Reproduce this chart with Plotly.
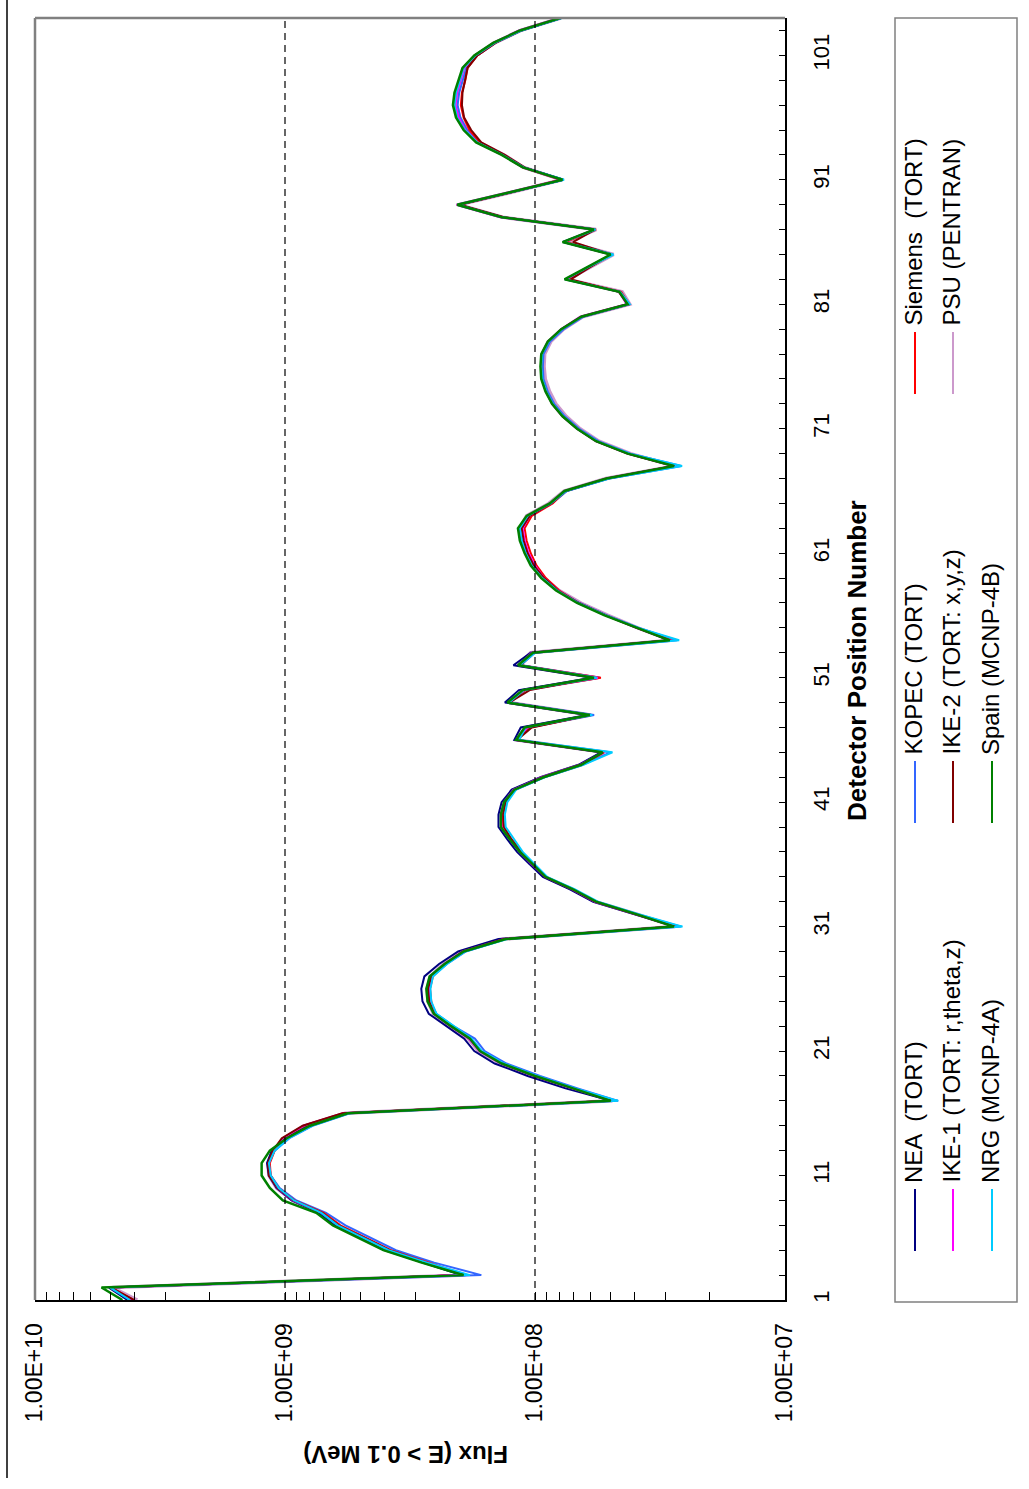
import plotly.graph_objects as go

# ---------------------------------------------------------------------------
# Data: fast-neutron flux (E > 0.1 MeV) at each detector position
# ---------------------------------------------------------------------------
positions = list(range(1, 105))

flux_nea = [
    4.27e9, 5.06e9, 1.97e8, 2.80e8, 3.98e8, 5.00e8, 6.30e8, 7.30e8, 9.40e8, 1.08e9,
    1.16e9, 1.18e9, 1.13e9, 9.90e8, 8.05e8, 5.70e8, 4.95e7, 7.55e7, 1.07e8, 1.45e8,
    1.75e8, 1.92e8, 2.27e8, 2.66e8, 2.82e8, 2.85e8, 2.77e8, 2.42e8, 2.03e8, 1.40e8,
    2.75e7, 4.00e7, 5.85e7, 7.25e7, 9.30e7, 1.05e8, 1.18e8, 1.29e8, 1.40e8, 1.40e8,
    1.36e8, 1.24e8, 9.50e7, 6.70e7, 5.45e7, 1.21e8, 1.14e8, 6.15e7, 1.32e8, 1.16e8,
    5.90e7, 1.22e8, 1.04e8, 2.90e7, 3.90e7, 5.20e7, 6.65e7, 8.10e7, 9.30e7, 1.03e8,
    1.09e8, 1.13e8, 1.15e8, 1.07e8, 8.65e7, 7.50e7, 5.10e7, 2.76e7, 4.22e7, 5.65e7,
    6.75e7, 7.70e7, 8.50e7, 9.00e7, 9.38e7, 9.45e7, 9.38e7, 8.85e7, 7.80e7, 6.50e7,
    4.22e7, 4.55e7, 7.55e7, 6.10e7, 4.95e7, 7.70e7, 5.78e7, 1.35e8, 2.03e8, 1.25e8,
    7.70e7, 1.11e8, 1.35e8, 1.70e8, 1.92e8, 2.05e8, 2.11e8, 2.08e8, 2.01e8, 1.94e8,
    1.74e8, 1.46e8, 1.14e8, 7.85e7,
]

flux_kopec = [
    4.17e9, 4.94e9, 1.64e8, 2.53e8, 3.60e8, 4.54e8, 5.73e8, 6.85e8, 9.00e8, 1.05e9,
    1.14e9, 1.16e9, 1.10e9, 9.60e8, 7.76e8, 5.50e8, 4.65e7, 6.75e7, 9.55e7, 1.30e8,
    1.59e8, 1.74e8, 2.12e8, 2.48e8, 2.63e8, 2.66e8, 2.58e8, 2.25e8, 1.89e8, 1.31e8,
    2.60e7, 3.90e7, 5.70e7, 7.05e7, 9.05e7, 1.02e8, 1.15e8, 1.26e8, 1.36e8, 1.37e8,
    1.32e8, 1.20e8, 9.20e7, 6.45e7, 5.00e7, 1.17e8, 1.08e8, 5.80e7, 1.26e8, 1.10e8,
    5.50e7, 1.14e8, 1.00e8, 2.70e7, 3.85e7, 5.15e7, 6.65e7, 8.05e7, 9.25e7, 1.02e8,
    1.08e8, 1.12e8, 1.14e8, 1.06e8, 8.55e7, 7.45e7, 5.05e7, 2.60e7, 4.15e7, 5.58e7,
    6.65e7, 7.60e7, 8.38e7, 8.90e7, 9.25e7, 9.30e7, 9.25e7, 8.70e7, 7.68e7, 6.40e7,
    4.20e7, 4.58e7, 7.55e7, 6.10e7, 4.92e7, 7.70e7, 5.75e7, 1.35e8, 2.04e8, 1.25e8,
    7.70e7, 1.11e8, 1.34e8, 1.68e8, 1.87e8, 1.99e8, 2.04e8, 2.01e8, 1.94e8, 1.88e8,
    1.70e8, 1.44e8, 1.13e8, 7.85e7,
]

flux_siemens = [
    4.02e9, 4.94e9, 1.93e8, 2.65e8, 3.77e8, 4.75e8, 6.00e8, 7.00e8, 9.15e8, 1.06e9,
    1.14e9, 1.15e9, 1.10e9, 1.02e9, 8.40e8, 5.80e8, 4.95e7, 7.05e7, 1.00e8, 1.36e8,
    1.66e8, 1.83e8, 2.16e8, 2.52e8, 2.60e8, 2.63e8, 2.56e8, 2.28e8, 1.93e8, 1.32e8,
    2.75e7, 3.94e7, 5.70e7, 7.05e7, 9.05e7, 1.02e8, 1.14e8, 1.25e8, 1.35e8, 1.36e8,
    1.32e8, 1.20e8, 9.25e7, 6.50e7, 5.30e7, 1.18e8, 1.05e8, 5.95e7, 1.27e8, 1.10e8,
    5.45e7, 1.15e8, 1.01e8, 2.85e7, 3.90e7, 5.20e7, 6.70e7, 8.00e7, 9.05e7, 9.85e7,
    1.04e8, 1.08e8, 1.10e8, 1.03e8, 8.50e7, 7.55e7, 5.15e7, 2.78e7, 4.25e7, 5.68e7,
    6.75e7, 7.72e7, 8.50e7, 9.02e7, 9.38e7, 9.44e7, 9.38e7, 8.85e7, 7.80e7, 6.50e7,
    4.20e7, 4.52e7, 7.35e7, 6.02e7, 4.90e7, 7.55e7, 5.70e7, 1.36e8, 2.02e8, 1.25e8,
    7.90e7, 1.12e8, 1.34e8, 1.66e8, 1.83e8, 1.93e8, 1.98e8, 1.96e8, 1.90e8, 1.86e8,
    1.70e8, 1.44e8, 1.14e8, 7.90e7,
]

flux_ike1 = [
    4.08e9, 5.00e9, 1.90e8, 2.70e8, 3.85e8, 4.85e8, 6.15e8, 7.15e8, 9.30e8, 1.07e9,
    1.15e9, 1.16e9, 1.11e9, 1.02e9, 8.45e8, 5.85e8, 4.92e7, 7.10e7, 1.01e8, 1.37e8,
    1.67e8, 1.84e8, 2.18e8, 2.54e8, 2.63e8, 2.66e8, 2.59e8, 2.30e8, 1.95e8, 1.33e8,
    2.76e7, 3.96e7, 5.75e7, 7.10e7, 9.10e7, 1.03e8, 1.15e8, 1.26e8, 1.36e8, 1.37e8,
    1.33e8, 1.22e8, 9.40e7, 6.60e7, 5.35e7, 1.19e8, 1.07e8, 6.00e7, 1.28e8, 1.11e8,
    5.60e7, 1.16e8, 1.03e8, 2.87e7, 3.92e7, 5.22e7, 6.72e7, 8.10e7, 9.20e7, 1.00e8,
    1.06e8, 1.10e8, 1.12e8, 1.05e8, 8.62e7, 7.60e7, 5.18e7, 2.79e7, 4.28e7, 5.72e7,
    6.80e7, 7.78e7, 8.55e7, 9.05e7, 9.40e7, 9.47e7, 9.40e7, 8.90e7, 7.88e7, 6.60e7,
    4.30e7, 4.62e7, 7.50e7, 6.10e7, 4.95e7, 7.70e7, 5.80e7, 1.38e8, 2.06e8, 1.27e8,
    7.85e7, 1.12e8, 1.35e8, 1.70e8, 1.90e8, 2.02e8, 2.08e8, 2.05e8, 1.98e8, 1.92e8,
    1.74e8, 1.47e8, 1.16e8, 8.00e7,
]

flux_ike2 = [
    4.02e9, 4.98e9, 1.92e8, 2.68e8, 3.82e8, 4.82e8, 6.10e8, 7.10e8, 9.25e8, 1.07e9,
    1.16e9, 1.17e9, 1.12e9, 1.03e9, 8.50e8, 5.90e8, 4.95e7, 7.00e7, 1.00e8, 1.35e8,
    1.65e8, 1.82e8, 2.16e8, 2.53e8, 2.65e8, 2.68e8, 2.60e8, 2.29e8, 1.94e8, 1.33e8,
    2.76e7, 3.95e7, 5.72e7, 7.08e7, 9.10e7, 1.02e8, 1.13e8, 1.24e8, 1.33e8, 1.34e8,
    1.31e8, 1.20e8, 9.30e7, 6.55e7, 5.35e7, 1.18e8, 1.03e8, 6.00e7, 1.27e8, 1.05e8,
    5.75e7, 1.14e8, 1.02e8, 2.88e7, 3.92e7, 5.20e7, 6.70e7, 8.10e7, 9.20e7, 1.01e8,
    1.07e8, 1.11e8, 1.13e8, 1.05e8, 8.60e7, 7.55e7, 5.15e7, 2.78e7, 4.25e7, 5.70e7,
    6.78e7, 7.75e7, 8.52e7, 9.02e7, 9.38e7, 9.44e7, 9.38e7, 8.85e7, 7.82e7, 6.52e7,
    4.25e7, 4.62e7, 7.19e7, 6.00e7, 4.95e7, 7.05e7, 5.75e7, 1.33e8, 2.00e8, 1.24e8,
    7.75e7, 1.10e8, 1.32e8, 1.64e8, 1.80e8, 1.92e8, 1.96e8, 1.95e8, 1.90e8, 1.86e8,
    1.70e8, 1.44e8, 1.13e8, 7.85e7,
]

flux_psu = [
    3.90e9, 4.90e9, 1.90e8, 2.75e8, 3.90e8, 4.90e8, 6.20e8, 7.20e8, 9.30e8, 1.08e9,
    1.16e9, 1.17e9, 1.11e9, 1.00e9, 8.30e8, 5.75e8, 4.90e7, 7.10e7, 1.01e8, 1.37e8,
    1.68e8, 1.85e8, 2.20e8, 2.55e8, 2.68e8, 2.70e8, 2.62e8, 2.32e8, 1.97e8, 1.34e8,
    2.75e7, 3.92e7, 5.72e7, 7.10e7, 9.15e7, 1.03e8, 1.14e8, 1.25e8, 1.35e8, 1.36e8,
    1.32e8, 1.21e8, 9.35e7, 6.55e7, 5.30e7, 1.18e8, 1.08e8, 6.00e7, 1.27e8, 1.10e8,
    5.70e7, 1.17e8, 1.04e8, 2.86e7, 3.88e7, 5.10e7, 6.55e7, 8.00e7, 9.20e7, 1.02e8,
    1.08e8, 1.13e8, 1.15e8, 1.08e8, 8.80e7, 7.65e7, 5.20e7, 2.76e7, 4.15e7, 5.55e7,
    6.60e7, 7.50e7, 8.25e7, 8.75e7, 9.10e7, 9.20e7, 9.15e7, 8.65e7, 7.70e7, 6.45e7,
    4.18e7, 4.48e7, 7.40e7, 6.00e7, 4.85e7, 7.50e7, 5.70e7, 1.35e8, 2.02e8, 1.24e8,
    7.80e7, 1.11e8, 1.33e8, 1.67e8, 1.87e8, 2.00e8, 2.06e8, 2.04e8, 1.97e8, 1.91e8,
    1.72e8, 1.45e8, 1.14e8, 7.90e7,
]

flux_nrg = [
    4.17e9, 5.00e9, 1.82e8, 2.70e8, 3.85e8, 4.85e8, 6.15e8, 7.15e8, 9.20e8, 1.06e9,
    1.14e9, 1.16e9, 1.10e9, 9.65e8, 7.80e8, 5.55e8, 4.65e7, 6.90e7, 9.80e7, 1.33e8,
    1.63e8, 1.79e8, 2.12e8, 2.48e8, 2.60e8, 2.62e8, 2.56e8, 2.25e8, 1.90e8, 1.29e8,
    2.57e7, 3.85e7, 5.60e7, 6.95e7, 8.95e7, 1.00e8, 1.12e8, 1.21e8, 1.31e8, 1.32e8,
    1.29e8, 1.19e8, 9.15e7, 6.40e7, 4.90e7, 1.16e8, 1.09e8, 5.90e7, 1.27e8, 1.11e8,
    5.65e7, 1.15e8, 1.00e8, 2.65e7, 3.85e7, 5.20e7, 6.72e7, 8.15e7, 9.35e7, 1.03e8,
    1.09e8, 1.13e8, 1.15e8, 1.07e8, 8.65e7, 7.52e7, 5.05e7, 2.58e7, 4.18e7, 5.65e7,
    6.75e7, 7.70e7, 8.48e7, 9.00e7, 9.35e7, 9.42e7, 9.36e7, 8.82e7, 7.78e7, 6.48e7,
    4.18e7, 4.56e7, 7.58e7, 6.10e7, 4.85e7, 7.72e7, 5.72e7, 1.36e8, 2.04e8, 1.25e8,
    7.65e7, 1.11e8, 1.35e8, 1.70e8, 1.91e8, 2.05e8, 2.10e8, 2.07e8, 2.00e8, 1.93e8,
    1.73e8, 1.45e8, 1.13e8, 7.80e7,
]

flux_spain = [
    4.47e9, 5.42e9, 1.93e8, 2.84e8, 4.04e8, 5.09e8, 6.43e8, 7.50e8, 1.02e9, 1.15e9,
    1.24e9, 1.24e9, 1.15e9, 9.84e8, 7.94e8, 5.61e8, 4.98e7, 7.05e7, 1.00e8, 1.36e8,
    1.66e8, 1.82e8, 2.17e8, 2.54e8, 2.69e8, 2.72e8, 2.64e8, 2.30e8, 1.93e8, 1.31e8,
    2.78e7, 3.94e7, 5.70e7, 7.05e7, 9.08e7, 1.02e8, 1.15e8, 1.26e8, 1.37e8, 1.37e8,
    1.33e8, 1.21e8, 9.25e7, 6.53e7, 5.37e7, 1.19e8, 1.10e8, 6.04e7, 1.29e8, 1.12e8,
    5.81e7, 1.17e8, 1.02e8, 2.89e7, 3.94e7, 5.27e7, 6.79e7, 8.24e7, 9.44e7, 1.04e8,
    1.10e8, 1.15e8, 1.17e8, 1.08e8, 8.73e7, 7.62e7, 5.18e7, 2.78e7, 4.26e7, 5.70e7,
    6.79e7, 7.76e7, 8.55e7, 9.08e7, 9.44e7, 9.51e7, 9.44e7, 8.89e7, 7.85e7, 6.53e7,
    4.26e7, 4.60e7, 7.62e7, 6.15e7, 4.98e7, 7.76e7, 5.81e7, 1.36e8, 2.05e8, 1.26e8,
    7.76e7, 1.12e8, 1.36e8, 1.72e8, 1.93e8, 2.07e8, 2.13e8, 2.10e8, 2.02e8, 1.95e8,
    1.75e8, 1.47e8, 1.15e8, 7.93e7,
]

flux_tick_vals = [1e10, 1e9, 1e8, 1e7]
flux_tick_text = ["1.00E+10", "1.00E+09", "1.00E+08", "1.00E+07"]
position_tick_vals = [1, 11, 21, 31, 41, 51, 61, 71, 81, 91, 101]

# ---------------------------------------------------------------------------
# Page geometry (pixels) and helpers to express it in paper coordinates
# ---------------------------------------------------------------------------
W, H = 1029, 1489
PL, PR, PT, PB = 35, 785, 18, 1300


def px(x):
    return (x - PL) / (PR - PL)


def py(y):
    return (PB - y) / (PB - PT)


FONT = "Arial, Liberation Sans, sans-serif"

# series: (name, values, colour, width)
series = [
    ("PSU (PENTRAN)", flux_psu, "#CC99CC", 3.5),
    ("NEA  (TORT)", flux_nea, "#000080", 2),
    ("KOPEC (TORT)", flux_kopec, "#3366FF", 2),
    ("Siemens  (TORT)", flux_siemens, "#FF0000", 2),
    ("IKE-1 (TORT: r,theta,z)", flux_ike1, "#FF00FF", 2),
    ("IKE-2 (TORT: x,y,z)", flux_ike2, "#800000", 2),
    ("NRG (MCNP-4A)", flux_nrg, "#00CCFF", 2),
    ("Spain (MCNP-4B)", flux_spain, "#008000", 2.5),
]

fig = go.Figure()
for name, vals, color, width in series:
    fig.add_trace(go.Scatter(
        x=vals, y=positions, mode="lines", name=name,
        line=dict(color=color, width=width), showlegend=False,
    ))

minor_flux = [m * 10 ** e for e in (7, 8, 9) for m in range(2, 10)]

fig.update_xaxes(
    type="log", range=[10, 7],
    tickvals=flux_tick_vals, ticktext=flux_tick_text, tickangle=-90,
    tickfont=dict(family=FONT, size=23, color="black"),
    ticks="inside", ticklen=8, tickcolor="black", tickwidth=1,
    ticklabelstandoff=12,
    minor=dict(tickmode="array", tickvals=minor_flux, ticks="inside",
               ticklen=8, tickcolor="black", tickwidth=1, showgrid=False),
    showgrid=False, zeroline=False,
    showline=True, linecolor="black", linewidth=2,
)

fig.update_yaxes(
    range=[1, 104], side="right",
    tickvals=position_tick_vals, tickangle=-90,
    tickfont=dict(family=FONT, size=22, color="black"),
    ticks="inside", ticklen=6, tickcolor="black", tickwidth=1,
    ticklabelstandoff=16,
    minor=dict(tickmode="linear", tick0=1, dtick=2, ticks="inside",
               ticklen=6, tickcolor="black", tickwidth=1, showgrid=False),
    showgrid=False, zeroline=False,
    showline=True, linecolor="black", linewidth=2,
)

shapes = []
# dashed decade grid lines
for xv in (1 / 3, 2 / 3):
    shapes.append(dict(type="line", xref="paper", yref="paper",
                       x0=xv, x1=xv, y0=0, y1=1,
                       line=dict(color="black", width=1.2, dash="7px,5px")))
# grey top and left frame of the plot area
shapes.append(dict(type="line", xref="paper", yref="paper", x0=0, x1=1, y0=1, y1=1,
                   line=dict(color="#808080", width=2.5)))
shapes.append(dict(type="line", xref="paper", yref="paper", x0=0, x1=0, y0=0, y1=1,
                   line=dict(color="#808080", width=2.5)))
# page rule on the far left
shapes.append(dict(type="line", xref="paper", yref="paper",
                   x0=px(7), x1=px(7), y0=py(0), y1=py(1478),
                   line=dict(color="black", width=1.5)))
# legend frame
shapes.append(dict(type="rect", xref="paper", yref="paper",
                   x0=px(895), x1=px(1017), y0=py(1302), y1=py(18),
                   line=dict(color="#808080", width=1.5), fillcolor="rgba(0,0,0,0)"))

annotations = []
# legend entries: (name, colour, column x, line bottom y)
legend_entries = [
    ("NEA  (TORT)", "#000080", 915, 1251),
    ("KOPEC (TORT)", "#3366FF", 915, 823),
    ("Siemens  (TORT)", "#FF0000", 915, 394),
    ("IKE-1 (TORT: r,theta,z)", "#FF00FF", 953, 1251),
    ("IKE-2 (TORT: x,y,z)", "#800000", 953, 823),
    ("PSU (PENTRAN)", "#CC99CC", 953, 394),
    ("NRG (MCNP-4A)", "#00CCFF", 992, 1251),
    ("Spain (MCNP-4B)", "#008000", 992, 823),
]
SAMPLE_LEN = 62
for name, color, cx, ybot in legend_entries:
    shapes.append(dict(type="line", xref="paper", yref="paper",
                       x0=px(cx), x1=px(cx), y0=py(ybot), y1=py(ybot - SAMPLE_LEN),
                       line=dict(color=color, width=2)))
    annotations.append(dict(
        xref="paper", yref="paper", x=px(cx - 2), y=py(ybot - SAMPLE_LEN - 4),
        xanchor="center", yanchor="bottom", textangle=-90, showarrow=False,
        text=name, font=dict(family=FONT, size=24, color="black"),
    ))

# axis titles
annotations.append(dict(
    xref="paper", yref="paper", x=px(857), y=py(661),
    xanchor="center", yanchor="middle", textangle=-90, showarrow=False,
    text="<b>Detector Position Number</b>",
    font=dict(family=FONT, size=26, color="black"),
))
annotations.append(dict(
    xref="paper", yref="paper", x=px(406), y=py(1455),
    xanchor="center", yanchor="middle", textangle=180, showarrow=False,
    text="<b>Flux (E > 0.1 MeV)</b>",
    font=dict(family=FONT, size=24, color="black"),
))

fig.update_layout(
    width=W, height=H,
    margin=dict(l=PL, r=W - PR, t=PT, b=H - PB, pad=0),
    paper_bgcolor="white", plot_bgcolor="white",
    shapes=shapes, annotations=annotations,
    showlegend=False,
)

fig.write_html("out.html")
